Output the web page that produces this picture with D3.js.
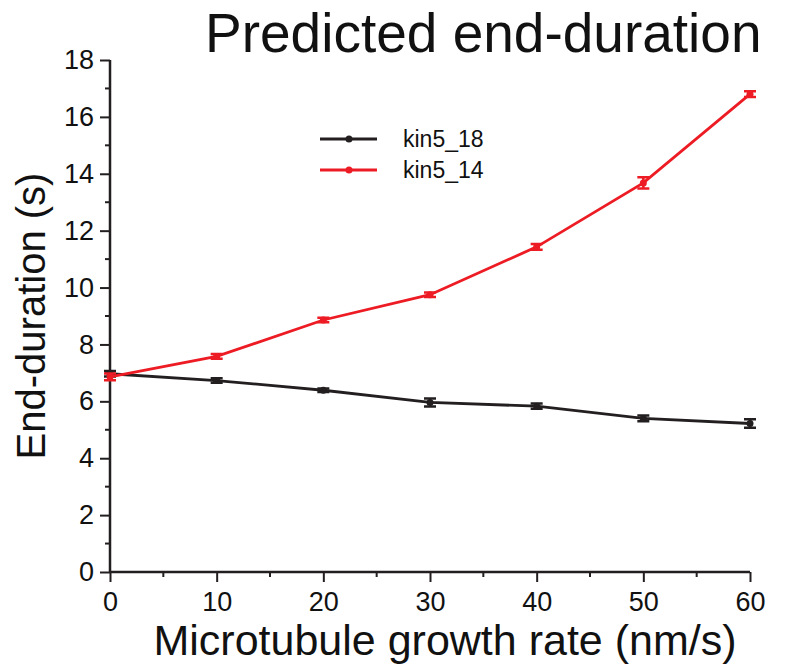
<!DOCTYPE html>
<html>
<head>
<meta charset="utf-8">
<script src="https://cdn.jsdelivr.net/npm/d3@7"></script>
<style>
  body { margin: 0; background: #fff; }
  text { font-family: "Liberation Sans", Arial, sans-serif; }
</style>
</head>
<body>
<div id="chart"></div>
<script>
var rates = [0, 10, 20, 30, 40, 50, 60];
var kin5_18 = [6.97, 6.73, 6.39, 5.96, 5.83, 5.40, 5.22];
var kin5_18err = [0.10, 0.08, 0.06, 0.14, 0.09, 0.10, 0.15];
var kin5_14 = [6.86, 7.58, 8.86, 9.75, 11.43, 13.68, 16.80];
var kin5_14err = [0.12, 0.08, 0.08, 0.08, 0.10, 0.20, 0.10];
var xTicks = [0, 10, 20, 30, 40, 50, 60];
var yTicks = [0, 2, 4, 6, 8, 10, 12, 14, 16, 18];

var series = [
  {name: "kin5_18", values: kin5_18, err: kin5_18err, color: "#231f20"},
  {name: "kin5_14", values: kin5_14, err: kin5_14err, color: "#ed1c24"}
];

drawChart();

function drawChart() {
  var width = 794, height = 666;
  var left = 110, right = 750, top = 60, bottom = 572;

  var svg = d3.select("#chart").append("svg")
    .attr("width", width)
    .attr("height", height);

  var x = d3.scaleLinear().domain([0, 60]).range([left, right]);
  var y = d3.scaleLinear().domain([0, 18]).range([bottom, top]);

  // minor ticks
  var xMinor = d3.range(5, 61, 10);
  var yMinor = d3.range(1, 18, 2);

  var axisColor = "#231f20";

  var xAxis = svg.append("g")
    .attr("transform", "translate(0," + bottom + ")")
    .call(d3.axisBottom(x).tickValues(xTicks).tickSize(10).tickPadding(10).tickFormat(d3.format("d")));
  svg.append("g")
    .selectAll("line")
    .data(xMinor)
    .enter().append("line")
    .attr("x1", function(d) { return x(d); })
    .attr("x2", function(d) { return x(d); })
    .attr("y1", bottom)
    .attr("y2", bottom + 5)
    .attr("stroke", axisColor)
    .attr("stroke-width", 2);

  var yAxis = svg.append("g")
    .attr("transform", "translate(" + left + ",0)")
    .call(d3.axisLeft(y).tickValues(yTicks).tickSize(10).tickPadding(6));
  svg.append("g")
    .selectAll("line")
    .data(yMinor)
    .enter().append("line")
    .attr("x1", left - 5)
    .attr("x2", left)
    .attr("y1", function(d) { return y(d); })
    .attr("y2", function(d) { return y(d); })
    .attr("stroke", axisColor)
    .attr("stroke-width", 2);

  [xAxis, yAxis].forEach(function(a) {
    a.select(".domain").attr("stroke", axisColor).attr("stroke-width", 2.5);
    a.selectAll(".tick line").attr("stroke", axisColor).attr("stroke-width", 2);
    a.selectAll(".tick text").attr("fill", "#111").style("font-size", "27px");
  });
  xAxis.select(".domain").attr("d", "M" + left + ",0H" + right);
  yAxis.select(".domain").attr("d", "M0," + bottom + "V" + top);

  var line = d3.line()
    .x(function(d, i) { return x(rates[i]); })
    .y(function(d) { return y(d); });

  series.forEach(function(s) {
    var g = svg.append("g");
    g.append("path")
      .attr("d", line(s.values))
      .attr("fill", "none")
      .attr("stroke", s.color)
      .attr("stroke-width", 2.8);

    g.selectAll(".err")
      .data(s.values)
      .enter().append("path")
      .attr("d", function(d, i) {
        var cx = x(rates[i]), hi = y(d + s.err[i]), lo = y(d - s.err[i]);
        return "M" + (cx - 6) + "," + hi + "H" + (cx + 6) +
               "M" + cx + "," + hi + "V" + lo +
               "M" + (cx - 6) + "," + lo + "H" + (cx + 6);
      })
      .attr("stroke", s.color)
      .attr("stroke-width", 2.5)
      .attr("fill", "none");

    g.selectAll("circle")
      .data(s.values)
      .enter().append("circle")
      .attr("cx", function(d, i) { return x(rates[i]); })
      .attr("cy", function(d) { return y(d); })
      .attr("r", 3.5)
      .attr("fill", s.color);
  });

  // legend
  var legend = svg.append("g");
  series.forEach(function(s, i) {
    var ly = 139 + i * 31;
    legend.append("line")
      .attr("x1", 320).attr("x2", 377)
      .attr("y1", ly).attr("y2", ly)
      .attr("stroke", s.color)
      .attr("stroke-width", 2.8);
    legend.append("circle")
      .attr("cx", 349).attr("cy", ly).attr("r", 3.5)
      .attr("fill", s.color);
    legend.append("text")
      .attr("x", 403).attr("y", ly + 8)
      .style("font-size", "23px")
      .attr("fill", "#111")
      .text(s.name);
  });

  svg.append("text")
    .attr("x", 205).attr("y", 52)
    .style("font-size", "55px")
    .attr("fill", "#111")
    .text("Predicted end-duration");

  svg.append("text")
    .attr("transform", "translate(45,316) rotate(-90)")
    .attr("text-anchor", "middle")
    .style("font-size", "40px")
    .attr("fill", "#111")
    .text("End-duration (s)");

  svg.append("text")
    .attr("x", 445).attr("y", 655)
    .attr("text-anchor", "middle")
    .style("font-size", "43px")
    .attr("fill", "#111")
    .text("Microtubule growth rate (nm/s)");
}
</script>
</body>
</html>
